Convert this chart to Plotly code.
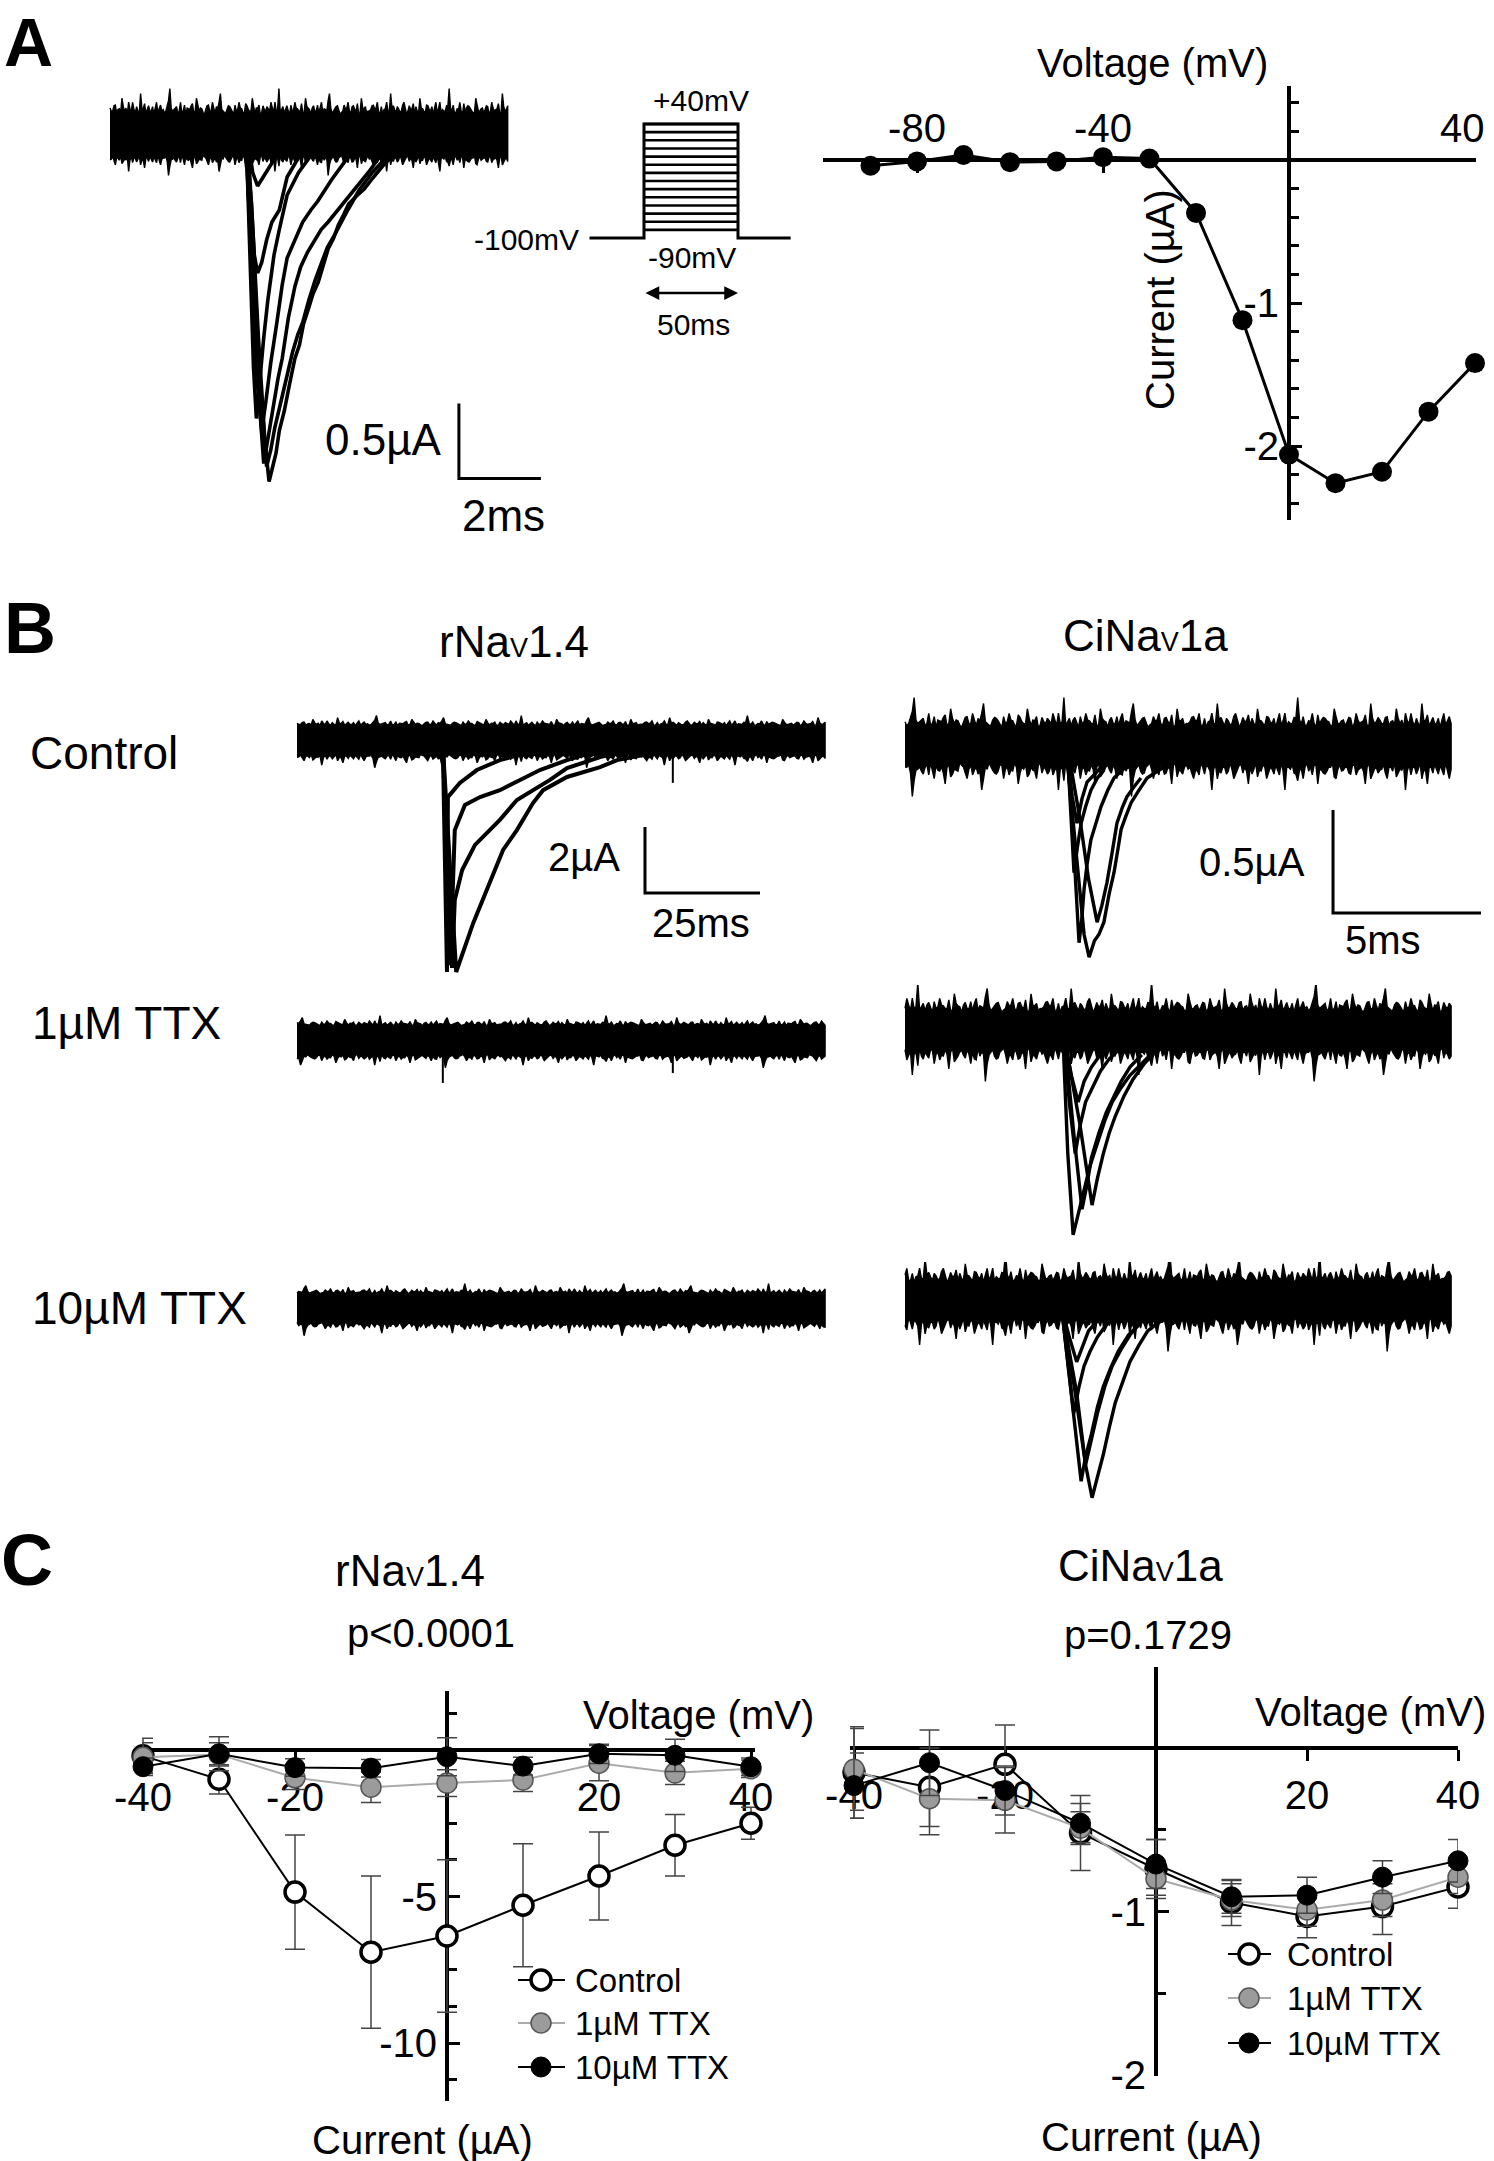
import plotly.graph_objects as go

W, H = 1494, 2161
FONT = "Liberation Sans, Arial, Helvetica, sans-serif"

# ====================== DATA ======================
# Panel A - current/voltage relation (CiNaV1a)
A_IV_V = [-90, -80, -70, -60, -50, -40, -30, -20, -10, 0, 10, 20, 30, 40]
A_IV_I = [-0.04, -0.01, 0.035, -0.015, -0.01, 0.02, 0.01, -0.37, -1.12, -2.06, -2.26, -2.18, -1.76, -1.42]
A_IV_XTICKS = [-80, -40, 40]

# Panel A - current traces (time in ms, current in uA)
A_TRACES_T = [
    [3.30, 3.45, 3.62, 3.78, 3.88, 3.97, 4.05, 4.13, 4.25, 4.38, 4.51, 4.62, 4.72, 4.85, 4.95, 5.08, 5.20, 5.32, 5.45, 5.57, 5.70, 5.82, 6.00, 6.20, 6.40, 6.70, 7.10, 7.60],
    [3.30, 3.48, 3.65, 3.82, 3.92, 4.02, 4.15, 4.32, 4.45, 4.58, 4.70, 4.85, 5.00, 5.15, 5.30, 5.45, 5.60, 5.80, 6.07, 6.40, 6.90, 7.30],
    [3.30, 3.48, 3.62, 3.75, 3.85, 3.98, 4.10, 4.20, 4.35, 4.51, 4.65, 4.82, 5.00, 5.15, 5.32, 5.50, 5.70, 5.95, 6.30, 6.70, 7.00],
    [3.32, 3.45, 3.58, 3.70, 3.80, 3.92, 4.07, 4.20, 4.32, 4.50, 4.70, 4.90, 5.07, 5.40, 5.80, 6.20],
    [3.32, 3.42, 3.50, 3.57, 3.65, 3.75, 3.85, 4.00, 4.13, 4.32, 4.60, 5.00, 5.40],
    [3.35, 3.45, 3.52, 3.60, 3.70, 3.82, 3.95, 4.13, 4.32, 4.60, 5.00],
    [3.35, 3.48, 3.60, 3.80, 4.10, 4.50],
]
A_TRACES_I = [
    [0.00, -0.45, -1.35, -2.05, -2.31, -2.20, -2.12, -1.97, -1.84, -1.66, -1.49, -1.40, -1.26, -1.15, -1.06, -0.98, -0.87, -0.76, -0.69, -0.60, -0.53, -0.46, -0.41, -0.36, -0.29, -0.19, -0.09, 0.00],
    [0.00, -0.70, -1.60, -2.21, -2.10, -1.95, -1.80, -1.61, -1.45, -1.33, -1.25, -1.10, -0.97, -0.86, -0.75, -0.68, -0.60, -0.50, -0.37, -0.25, -0.10, 0.00],
    [0.00, -0.90, -1.70, -2.19, -2.02, -1.80, -1.62, -1.49, -1.22, -1.01, -0.88, -0.78, -0.70, -0.63, -0.58, -0.52, -0.45, -0.37, -0.25, -0.10, 0.00],
    [0.00, -0.90, -1.60, -1.97, -1.78, -1.52, -1.25, -1.00, -0.82, -0.70, -0.58, -0.50, -0.44, -0.30, -0.15, 0.00],
    [0.00, -0.90, -1.55, -1.89, -1.62, -1.35, -1.10, -0.80, -0.63, -0.40, -0.25, -0.10, 0.00],
    [0.00, -0.50, -0.80, -0.92, -0.85, -0.70, -0.58, -0.50, -0.28, -0.15, 0.00],
    [0.00, -0.25, -0.34, -0.25, -0.12, 0.00],
]
A_REC_DUR = 9.7  # ms

# Voltage protocol (mV, ms)
PROT_LEVELS = [-90, -80, -70, -60, -50, -40, -30, -20, -10, 0, 10, 20, 30, 40]
PROT_HOLD = -100
PROT_TOP = 40
PROT_DUR = 50
PROT_PRE = -29
PROT_POST = 78

# Panel B - rNaV1.4 traces (ms, uA)
B_R_CTRL_T = [
    [31.7, 34.6, 38.3, 42.0, 44.8, 47.8, 51.3, 53.5, 58.7, 65.9, 69.6, 78.9, 91.9],
    [31.7, 33.7, 34.3, 35.9, 38.7, 44.1, 47.8, 51.3, 55.0, 58.7, 65.9, 74.6],
    [31.7, 33.3, 34.3, 36.5, 39.8, 44.1, 48.5, 52.8, 58.7, 65.9],
    [31.7, 32.6, 32.8, 35.4, 39.1, 44.1, 50.7],
]
B_R_CTRL_I = [
    [-0.15, -7.03, -5.55, -4.24, -3.33, -2.73, -1.91, -1.52, -1.12, -0.82, -0.61, -0.36, -0.15],
    [-0.15, -6.91, -4.85, -3.94, -3.18, -2.42, -1.82, -1.52, -1.21, -0.85, -0.52, -0.24],
    [-0.15, -6.82, -2.73, -1.97, -1.73, -1.52, -1.21, -0.91, -0.61, -0.30],
    [-0.15, -7.03, -1.73, -1.30, -0.91, -0.61, -0.36],
]
B_R_CTRL_SPIKE_T = [81.7]
B_R_CTRL_SPIKE_I = [-1.3]
B_R_TTX1_SPIKE_T = [31.7, 81.7]
B_R_TTX1_SPIKE_I = [-1.3, -1.0]
B_R_REC_DUR = 114.8

# Panel B - CiNaV1a traces (ms, uA)
B_C_CTRL_T = [
    [5.47, 5.80, 6.05, 6.22, 6.40, 6.55, 6.72, 6.90, 7.06, 7.20, 7.30, 7.45, 7.64, 7.90, 8.18, 8.60, 9.00],
    [5.50, 5.70, 5.88, 5.97, 6.05, 6.15, 6.28, 6.45, 6.62, 6.85, 7.06, 7.35, 7.64],
    [5.55, 5.90, 6.20, 6.49, 6.65, 6.82, 7.00, 7.16, 7.35, 7.50, 7.75, 7.97],
    [5.50, 5.62, 5.71, 5.82, 5.95, 6.10, 6.28, 6.50, 6.72],
    [5.50, 5.65, 5.81, 5.98, 6.15, 6.40, 6.62],
]
B_C_CTRL_I = [
    [-0.06, -0.55, -0.92, -1.03, -0.95, -0.92, -0.86, -0.72, -0.62, -0.50, -0.41, -0.35, -0.28, -0.22, -0.16, -0.12, -0.09],
    [-0.06, -0.50, -0.96, -0.85, -0.70, -0.58, -0.46, -0.38, -0.30, -0.22, -0.16, -0.12, -0.09],
    [-0.06, -0.35, -0.65, -0.86, -0.78, -0.67, -0.52, -0.38, -0.30, -0.25, -0.20, -0.16],
    [-0.06, -0.40, -0.62, -0.50, -0.38, -0.30, -0.22, -0.16, -0.12],
    [-0.06, -0.25, -0.38, -0.26, -0.18, -0.14, -0.11],
]
B_C_TTX1_T = [
    [5.34, 5.50, 5.68, 5.85, 6.00, 6.25, 6.50, 6.75, 7.00, 7.30, 7.60, 8.30, 9.00],
    [5.40, 5.70, 5.98, 6.15, 6.30, 6.55, 6.80, 7.05, 7.30, 7.60, 8.00],
    [5.40, 5.90, 6.32, 6.50, 6.70, 6.90, 7.10, 7.40, 7.70, 8.10, 8.50],
    [5.38, 5.55, 5.75, 5.92, 6.10, 6.35, 6.60, 6.90, 7.20],
    [5.40, 5.62, 5.85, 6.05, 6.30, 6.60, 6.90],
]
B_C_TTX1_I = [
    [-0.05, -0.60, -0.995, -0.90, -0.80, -0.66, -0.55, -0.44, -0.35, -0.28, -0.22, -0.12, -0.06],
    [-0.05, -0.50, -0.87, -0.75, -0.62, -0.50, -0.40, -0.32, -0.25, -0.18, -0.12],
    [-0.05, -0.45, -0.85, -0.72, -0.60, -0.50, -0.42, -0.32, -0.24, -0.16, -0.10],
    [-0.05, -0.35, -0.60, -0.46, -0.35, -0.27, -0.20, -0.14, -0.10],
    [-0.05, -0.22, -0.35, -0.25, -0.18, -0.12, -0.08],
]
B_C_TTX10_T = [
    [5.30, 5.80, 6.10, 6.32, 6.50, 6.70, 6.90, 7.10, 7.35, 7.60, 7.90, 8.20, 9.00],
    [5.30, 5.65, 5.95, 6.10, 6.30, 6.50, 6.70, 6.95, 7.20, 7.55, 7.90],
    [5.30, 5.75, 6.10, 6.30, 6.50, 6.75, 7.00, 7.30, 7.60, 7.95, 8.30],
    [5.30, 5.50, 5.70, 5.88, 6.05, 6.25, 6.50, 6.80, 7.10],
    [5.32, 5.55, 5.80, 6.00, 6.20, 6.50, 6.80],
]
B_C_TTX10_I = [
    [-0.05, -0.45, -0.80, -0.96, -0.86, -0.75, -0.62, -0.50, -0.40, -0.30, -0.22, -0.15, -0.06],
    [-0.05, -0.50, -0.88, -0.76, -0.65, -0.52, -0.42, -0.33, -0.25, -0.17, -0.12],
    [-0.05, -0.45, -0.80, -0.68, -0.55, -0.42, -0.32, -0.24, -0.17, -0.11, -0.08],
    [-0.05, -0.30, -0.55, -0.42, -0.32, -0.25, -0.18, -0.12, -0.08],
    [-0.05, -0.18, -0.30, -0.22, -0.15, -0.10, -0.06],
]
B_C_REC_DUR = 18.45

NOISE_UP = [4, 6, 3, 5, 8, 4, 2, 5, 7, 3, 4, 9, 5, 3, 6, 4, 2, 7, 5, 4, 3, 6, 10, 4, 5, 3, 7, 4, 2, 5,
            6, 3, 8, 4, 5, 2, 6, 4, 7, 3, 5, 9, 4, 3, 6, 5, 2, 4, 7, 5, 3, 6, 4, 8, 3, 5, 2, 6, 4, 5,
            7, 3, 4, 10, 5, 3, 6, 2, 4, 7, 5, 4, 3, 8, 5, 2, 6, 4, 3, 7, 5, 4, 9, 3, 5, 6, 2, 4, 5, 7,
            3, 6, 4, 2, 8, 5, 3, 4, 6, 5, 7, 3, 2, 5, 4, 9, 6, 3, 5, 4, 7, 2, 6, 5, 3, 4, 8, 5, 3, 6,
            4, 2, 7, 5, 3, 4, 6, 10, 4, 3, 5, 7, 2, 4, 6, 5, 3, 8, 4, 5, 3, 6, 2, 7, 4, 5, 3, 9, 4, 6]
NOISE_DN = [5, 3, 7, 4, 2, 6, 5, 9, 3, 4, 6, 2, 5, 8, 4, 3, 6, 5, 2, 7, 4, 3, 10, 5, 4, 6, 3, 2, 7, 5,
            4, 8, 3, 6, 5, 2, 4, 7, 3, 5, 6, 9, 4, 2, 5, 6, 3, 7, 4, 5, 2, 8, 4, 3, 6, 5, 7, 2, 4, 6,
            3, 5, 9, 4, 2, 6, 5, 3, 7, 4, 5, 3, 8, 2, 6, 4, 5, 3, 7, 6, 2, 4, 10, 5, 3, 6, 4, 2, 7, 5,
            3, 6, 4, 8, 2, 5, 6, 3, 4, 7, 5, 2, 6, 4, 9, 3, 5, 4, 6, 2, 7, 5, 3, 4, 8, 6, 2, 5, 3, 7,
            4, 6, 5, 2, 9, 4, 3, 6, 5, 7, 2, 4, 3, 8, 5, 6, 4, 2, 7, 3, 5, 4, 6, 3, 5, 4, 8, 2, 6, 4]

# Panel C - mean I/V (uA) +/- SEM
C_V = [-40, -30, -20, -10, 0, 10, 20, 30, 40]
C_R_CTRL = [-0.20, -1.00, -4.85, -6.90, -6.35, -5.30, -4.30, -3.25, -2.50]
C_R_CTRL_ERR = [0.60, 0.50, 1.95, 2.60, 2.60, 2.10, 1.50, 1.05, 0.55]
C_R_TTX1 = [-0.25, -0.15, -0.95, -1.27, -1.13, -1.02, -0.45, -0.78, -0.64]
C_R_TTX1_ERR = [0.50, 0.40, 0.40, 0.52, 0.46, 0.40, 0.60, 0.40, 0.30]
C_R_TTX10 = [-0.57, -0.13, -0.60, -0.62, -0.23, -0.55, -0.13, -0.18, -0.57]
C_R_TTX10_ERR = [0.30, 0.58, 0.30, 0.30, 0.65, 0.30, 0.33, 0.55, 0.30]

C_C_CTRL = [-0.15, -0.24, -0.10, -0.52, -0.74, -0.945, -1.03, -0.97, -0.85]
C_C_CTRL_ERR = [0.28, 0.24, 0.24, 0.23, 0.18, 0.14, 0.13, 0.17, 0.13]
C_C_TTX1 = [-0.13, -0.31, -0.32, -0.49, -0.80, -0.93, -0.99, -0.93, -0.79]
C_C_TTX1_ERR = [0.25, 0.22, 0.20, 0.10, 0.10, 0.10, 0.10, 0.10, 0.10]
C_C_TTX10 = [-0.23, -0.09, -0.26, -0.46, -0.71, -0.91, -0.90, -0.79, -0.69]
C_C_TTX10_ERR = [0.20, 0.20, 0.15, 0.12, 0.15, 0.10, 0.11, 0.10, 0.13]

SERIES = ["Control", "1\u00b5M TTX", "10\u00b5M TTX"]

# ====================== FIGURE ======================
fig = go.Figure()
layout_axes = {}


def ids(n):
    return ("x" if n == 1 else f"x{n}"), ("y" if n == 1 else f"y{n}")


def keys(n):
    return ("xaxis" if n == 1 else f"xaxis{n}"), ("yaxis" if n == 1 else f"yaxis{n}")


def ranges(box, origin, scale):
    x0, y0, x1, y1 = box
    ox, oy = origin
    sx, sy = scale
    return [(x0 - ox) / sx, (x1 - ox) / sx], [-(y1 - oy) / sy, -(y0 - oy) / sy]


def plain_axes(n, box, origin, scale):
    x0, y0, x1, y1 = box
    xr, yr = ranges(box, origin, scale)
    xk, yk = keys(n)
    xi, yi = ids(n)
    layout_axes[xk] = dict(domain=[x0 / W, x1 / W], range=xr, anchor=yi, visible=False,
                           fixedrange=True, automargin=False)
    layout_axes[yk] = dict(domain=[1 - y1 / H, 1 - y0 / H], range=yr, anchor=xi, visible=False,
                           fixedrange=True, automargin=False)


def line(n, xs, ys, width=3.0, color="black"):
    xi, yi = ids(n)
    fig.add_trace(go.Scatter(x=xs, y=ys, mode="lines", line=dict(color=color, width=width),
                             xaxis=xi, yaxis=yi, hoverinfo="skip", showlegend=False))


def band(n, dur, core, k_up, k_dn, off):
    """Noisy baseline drawn as a filled envelope; spikes from the typed texture lists."""
    xi, yi = ids(n)
    up = NOISE_UP[off:] + NOISE_UP[:off]
    dn = NOISE_DN[off:] + NOISE_DN[:off]
    m = len(up)
    steps = 2 * m - 1
    ts, hi, lo = [], [], []
    for i in range(m):
        ts += [dur * (2 * i) / steps, dur * (2 * i + 1) / steps]
        hi += [core + 0.55 * k_up * dn[i] / 10, core + k_up * (up[i] / 10) ** 2]
        lo += [-(core + k_dn * (dn[i] / 10) ** 2), -(core + 0.55 * k_dn * up[i] / 10)]
    fig.add_trace(go.Scatter(x=ts + ts[::-1], y=hi + lo[::-1], mode="lines", fill="toself",
                             fillcolor="black", line=dict(color="black", width=1.4),
                             xaxis=xi, yaxis=yi, hoverinfo="skip", showlegend=False))


def txt(s, x, y, size, xanchor="center", yanchor="middle", angle=0):
    fig.add_annotation(text=s, x=x / W, y=1 - y / H, xref="paper", yref="paper", showarrow=False,
                       font=dict(size=size, family=FONT, color="black"), xanchor=xanchor,
                       yanchor=yanchor, textangle=angle)


def scalebar(n, t, i, dt, di):
    line(n, [t, t, t + dt], [i + di, i, i], width=3)


# ---------- Panel A traces ----------
plain_axes(1, (100, 60, 560, 560), (110, 135), (41, 150))
band(1, A_REC_DUR, 0.13, 0.18, 0.14, 0)
for ts, cs in zip(A_TRACES_T, A_TRACES_I):
    line(1, ts, cs, width=3.6)
scalebar(1, 8.51, -2.29, 2, 0.5)
txt("0.5\u00b5A", 444, 439, 44, xanchor="right")
txt("2ms", 503, 516, 44)

# ---------- Voltage protocol ----------
plain_axes(2, (560, 80, 800, 350), (644, 156.6), (1.88, 0.8143))
for v in PROT_LEVELS:
    line(2, [0, PROT_DUR], [v, v], width=2.6)
line(2, [PROT_PRE, 0, 0, PROT_DUR, PROT_DUR, PROT_POST],
     [PROT_HOLD, PROT_HOLD, PROT_TOP, PROT_TOP, PROT_HOLD, PROT_HOLD], width=3)
fig.add_annotation(x=PROT_DUR, y=1 - 293 / H, xref="x2", yref="paper", ax=0, ay=0, axref="x2",
                   ayref="pixel", text="", showarrow=True, arrowhead=2, arrowside="end+start",
                   arrowsize=1.1, arrowwidth=2.5, arrowcolor="black")
txt("+40mV", 701, 101, 30)
txt("-100mV", 581, 240, 30, xanchor="right")
txt("-90mV", 692, 257, 30)
txt("50ms", 693, 324, 30)


# ---------- I/V axes helper ----------
def iv_axes(n, box, origin, scale, xside, xticks, xtickvals, xticktext, ytickvals, yminor, ticklen=11):
    x0, y0, x1, y1 = box
    ox, oy = origin
    xr, yr = ranges(box, origin, scale)
    xk, yk = keys(n)
    tf = dict(size=40, family=FONT, color="black")
    layout_axes[xk] = dict(domain=[x0 / W, x1 / W], range=xr, anchor="free", position=1 - oy / H,
                           side=xside, showline=True, linewidth=4, linecolor="black", ticks=xticks,
                           ticklen=ticklen, tickwidth=3, tickcolor="black", tickmode="array",
                           tickvals=xtickvals, ticktext=xticktext, tickfont=tf,
                           ticklabeloverflow="allow",
                           showgrid=False, zeroline=False, layer="below traces", fixedrange=True,
                           automargin=False)
    layout_axes[yk] = dict(domain=[1 - y1 / H, 1 - y0 / H], range=yr, anchor="free", position=ox / W,
                           side="left", showline=True, linewidth=4, linecolor="black", ticks="inside",
                           ticklen=ticklen, tickwidth=3, tickcolor="black", tickmode="array",
                           tickvals=ytickvals, ticktext=[str(v) for v in ytickvals], tickfont=tf,
                           ticklabeloverflow="allow",
                           minor=dict(tickmode="array", tickvals=yminor, ticks="inside", ticklen=8,
                                      tickwidth=3, tickcolor="black"),
                           showgrid=False, zeroline=False, layer="below traces", fixedrange=True,
                           automargin=False)


# ---------- Panel A I/V ----------
# the last tick label (40) sits at the page edge, so it is written just inside it
iv_axes(3, (823, 86, 1476, 520), (1289, 160), (4.65, 143), "top", "inside", A_IV_XTICKS,
        [str(v) for v in A_IV_XTICKS[:-1]] + [""], [-2, -1],
        [0.4, 0.2, -0.2, -0.4, -0.6, -0.8, -1.2, -1.4, -1.6, -1.8, -2.2, -2.4])
txt(str(A_IV_XTICKS[-1]), 1462, 128, 40)
fig.add_trace(go.Scatter(x=A_IV_V, y=A_IV_I, mode="lines+markers", xaxis="x3", yaxis="y3",
                         line=dict(color="black", width=3), marker=dict(size=20, color="black"),
                         cliponaxis=False, hoverinfo="skip", showlegend=False))
txt("Voltage (mV)", 1152, 63, 40)
txt("Current (\u00b5A)", 1160, 300, 40, angle=-90)

# ---------- Panel B ----------
rows_y = [(690, 985), (985, 1262), (1262, 1530)]
base_R = [740, 1040, 1308]
base_C = [745, 1030, 1300]
for k in range(3):
    plain_axes(4 + k, (280, rows_y[k][0], 840, rows_y[k][1]), (297, base_R[k]), (4.6, 33))
    plain_axes(7 + k, (890, rows_y[k][0] - (5 if k == 0 else 0), 1490, rows_y[k][1]), (905, base_C[k]), (29.6, 206))

# rNaV1.4
band(4, B_R_REC_DUR, 0.42, 0.32, 0.42, 0)
for ts, cs in zip(B_R_CTRL_T, B_R_CTRL_I):
    line(4, ts, cs, width=4)
for t, c in zip(B_R_CTRL_SPIKE_T, B_R_CTRL_SPIKE_I):
    line(4, [t, t], [0, c], width=2)
band(5, B_R_REC_DUR, 0.42, 0.32, 0.42, 40)
for t, c in zip(B_R_TTX1_SPIKE_T, B_R_TTX1_SPIKE_I):
    line(5, [t, t], [0, c], width=2)
band(6, B_R_REC_DUR, 0.42, 0.32, 0.42, 80)
scalebar(4, 75.65, -4.64, 25, 2)
txt("2\u00b5A", 622, 857, 40, xanchor="right")
txt("25ms", 650, 923, 40, xanchor="left")

# CiNaV1a
band(7, B_C_REC_DUR, 0.08, 0.15, 0.17, 20)
for ts, cs in zip(B_C_CTRL_T, B_C_CTRL_I):
    line(7, ts, cs, width=3.4)
band(8, B_C_REC_DUR, 0.08, 0.15, 0.17, 60)
for ts, cs in zip(B_C_TTX1_T, B_C_TTX1_I):
    line(8, ts, cs, width=3.4)
band(9, B_C_REC_DUR, 0.08, 0.15, 0.17, 100)
for ts, cs in zip(B_C_TTX10_T, B_C_TTX10_I):
    line(9, ts, cs, width=3.4)
scalebar(7, 14.46, -0.816, 5, 0.5)
txt("0.5\u00b5A", 1307, 862, 40, xanchor="right")
txt("5ms", 1383, 940, 40)

sub = "<span style='font-size:27px'>V</span>"
txt("rNa" + sub + "1.4", 514, 642, 44)
txt("CiNa" + sub + "1a", 1145, 635, 44)
txt("Control", 28, 753, 46, xanchor="left")
txt("1\u00b5M TTX", 30, 1023, 46, xanchor="left")
txt("10\u00b5M TTX", 30, 1308, 46, xanchor="left")

# ---------- Panel C ----------
STYLES = [
    dict(marker=dict(size=20, color="white", line=dict(color="black", width=3.5)), line=dict(color="black", width=2)),
    dict(marker=dict(size=20, color="#9b9b9b", line=dict(color="#555555", width=1.5)), line=dict(color="#aaaaaa", width=2)),
    dict(marker=dict(size=20, color="black", line=dict(color="black", width=1)), line=dict(color="black", width=2)),
]

C_XTICKS = [-40, -20, 20, 40]
iv_axes(10, (142, 1691, 755, 2101), (447, 1750), (7.6, 29.3), "bottom", "outside", C_XTICKS,
        [str(v) for v in C_XTICKS], [-10, -5], [1.25, -1.25, -2.5, -3.75, -6.25, -7.5, -8.75, -11.25])
iv_axes(11, (850, 1667, 1458, 2076), (1156, 1748), (7.55, 163.5), "bottom", "outside", C_XTICKS,
        [str(v) for v in C_XTICKS], [-2, -1], [0.5, -0.5, -1.5])

for n, means, errs in [
    (10, [C_R_CTRL, C_R_TTX1, C_R_TTX10], [C_R_CTRL_ERR, C_R_TTX1_ERR, C_R_TTX10_ERR]),
    (11, [C_C_CTRL, C_C_TTX1, C_C_TTX10], [C_C_CTRL_ERR, C_C_TTX1_ERR, C_C_TTX10_ERR]),
]:
    xi, yi = ids(n)
    for s in range(3):
        fig.add_trace(go.Scatter(x=C_V, y=means[s], mode="lines+markers", xaxis=xi, yaxis=yi,
                                 error_y=dict(type="data", array=errs[s], visible=True, color="#444444",
                                              thickness=1.5, width=10),
                                 cliponaxis=False, hoverinfo="skip", showlegend=False, name=SERIES[s],
                                 **STYLES[s]))

txt("rNa" + sub + "1.4", 410, 1570, 44)
txt("p<0.0001", 431, 1633, 40)
txt("CiNa" + sub + "1a", 1140, 1566, 44)
txt("p=0.1729", 1148, 1635, 40)
txt("Voltage (mV)", 698, 1715, 40)
txt("Voltage (mV)", 1370, 1712, 40)
txt("Current (\u00b5A)", 422, 2140, 40)
txt("Current (\u00b5A)", 1151, 2137, 40)

# manual legends (pixel-unit axes)
for n, box, rows, mx, lx0, lx1, tx in [
    (12, (505, 1950, 580, 2095), [1980, 2023, 2067], 541, 518, 565, 573),
    (13, (1220, 1925, 1295, 2070), [1954, 1998, 2043], 1249, 1228, 1271, 1285),
]:
    x0, y0, x1, y1 = box
    xk, yk = keys(n)
    xi, yi = ids(n)
    layout_axes[xk] = dict(domain=[x0 / W, x1 / W], range=[x0, x1], anchor=yi, visible=False,
                           fixedrange=True, automargin=False)
    layout_axes[yk] = dict(domain=[1 - y1 / H, 1 - y0 / H], range=[y1, y0], anchor=xi, visible=False,
                           fixedrange=True, automargin=False)
    for s in range(3):
        fig.add_trace(go.Scatter(x=[lx0, mx, lx1], y=[rows[s]] * 3, mode="lines", xaxis=xi, yaxis=yi,
                                 line=STYLES[s]["line"], hoverinfo="skip", showlegend=False))
        fig.add_trace(go.Scatter(x=[mx], y=[rows[s]], mode="markers", xaxis=xi, yaxis=yi,
                                 marker=STYLES[s]["marker"], cliponaxis=False, hoverinfo="skip",
                                 showlegend=False))
        txt(SERIES[s], tx, rows[s], 33, xanchor="left")

# panel letters
txt("<b>A</b>", 28, 2, 68, yanchor="top")
txt("<b>B</b>", 30, 628, 72)
txt("<b>C</b>", 27, 1560, 72)

fig.update_layout(width=W, height=H, margin=dict(l=0, r=0, t=0, b=0, pad=0), showlegend=False,
                  paper_bgcolor="white", plot_bgcolor="rgba(0,0,0,0)",
                  font=dict(family=FONT, color="black"), **layout_axes)

fig.write_html("out.html", config={"displayModeBar": False},
               post_script="document.body.style.margin='0';")
